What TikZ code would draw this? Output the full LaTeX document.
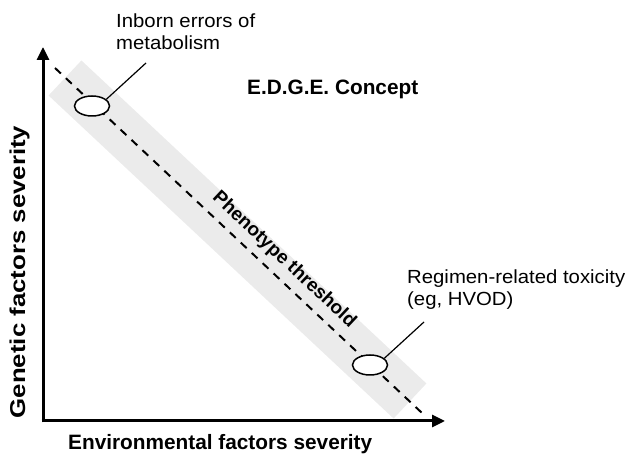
\documentclass[tikz,border=0pt]{standalone}
\usepackage{fontspec}
\setmainfont{Liberation Sans}
\newfontfamily\lblfont{Liberation Sans}[FakeStretch=1.07]
\newfontfamily\ylblfont{Liberation Sans}[FakeStretch=1.2]
\usepackage{tikz}
\usetikzlibrary{arrows.meta,positioning,shapes.geometric}
\tikzset{
  axisarr/.style={line width=3pt, -{Triangle[length=13pt,width=12pt]}},
  bandline/.style={line width=48pt, draw=black!8, line cap=butt},
  thresh/.style={line width=2pt, dash pattern=on 8pt off 7pt},
  oval/.style={ellipse, draw=black, line width=1.5pt, fill=white, minimum width=35pt, minimum height=20pt, inner sep=0pt},
  leader/.style={line width=1.2pt},
  lbl/.style={font=\lblfont\fontsize{19}{21.5}\selectfont, align=left, inner sep=0pt},
  blbl/.style={font=\fontsize{20.8}{24}\selectfont\bfseries, inner sep=0pt}
}
\begin{document}
\begin{tikzpicture}[x=1pt,y=1pt]
\useasboundingbox (0,0) rectangle (629,454);
% axes
\coordinate (o) at (43,33);
\coordinate (ytip) at (43,407);
\coordinate (xtip) at (445,33);
% threshold band and dashed line
\coordinate (d1) at (55,386);
\coordinate (d2) at (422,41);
\coordinate (b1) at (65,376);
\coordinate (b2) at (410,53);
\draw[bandline] (b1)--(b2);
\draw[thresh] (d1)--(d2);
\draw[axisarr] ([yshift=-1.5pt]o)--(ytip);
\draw[axisarr] ([xshift=-1.5pt]o)--(xtip);
% markers on the threshold
\node[oval] (m1) at (92,348) {};
\node[oval] (m2) at (370,89) {};
\coordinate (c1) at (146,391);
\coordinate (c2) at (424,132);
\draw[leader] (m1.25)--(c1);
\draw[leader] (m2.25)--(c2);
% labels
\node[lbl, anchor=north west] (t1) at (116,440) {Inborn errors of\\metabolism};
\node[lbl, anchor=north west] (t2) at (407,184) {Regimen-related toxicity\\(eg, HVOD)};
\node[blbl, anchor=base west] (t3) at (247,359) {E.D.G.E. Concept};
\node[blbl, font=\fontsize{19}{22}\selectfont\bfseries, rotate=-43.2] (t4) at (284,194) {Phenotype threshold};
\node[blbl, anchor=base west] (xl) at (68,4) {Environmental factors severity};
\node[blbl, font=\ylblfont\fontsize{21.5}{24}\selectfont\bfseries, anchor=base, rotate=90] (yl) at (25,182) {Genetic factors severity};
\end{tikzpicture}
\end{document}
